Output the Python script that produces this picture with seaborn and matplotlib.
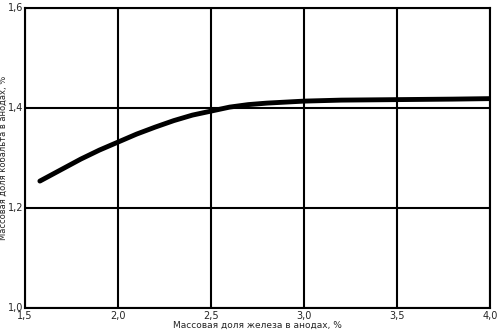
import matplotlib
matplotlib.use("Agg")
import matplotlib.pyplot as plt
import matplotlib.transforms as mtransforms
import seaborn as sns
import pandas as pd

fe = [1.58, 1.65, 1.72, 1.80, 1.90, 2.00, 2.10, 2.20, 2.30, 2.40, 2.50, 2.60, 2.70, 2.80, 3.00, 3.20, 3.50, 3.80, 4.00]
co = [1.254, 1.268, 1.282, 1.298, 1.316, 1.332, 1.348, 1.362, 1.375, 1.386, 1.394, 1.402, 1.407, 1.410, 1.414, 1.416, 1.417, 1.418, 1.419]

xticks = [1.5, 2.0, 2.5, 3.0, 3.5, 4.0]
xticklabels = ["1,5", "2,0", "2,5", "3,0", "3,5", "4,0"]
yticks = [1.0, 1.2, 1.4, 1.6]
yticklabels = ["1,0", "1,2", "1,4", "1,6"]

sns.set_style("white")
plt.rcParams['font.family'] = ['DejaVu Sans']

df = pd.DataFrame({"fe": fe, "co": co})
fig = plt.figure(figsize=(5, 3.35), dpi=100)
ax = fig.add_axes([0.05, 0.0806, 0.93, 0.895])
sns.lineplot(data=df, x="fe", y="co", ax=ax, color="black", linewidth=3.5)
ax.set_xlim(1.5, 4.0)
ax.set_ylim(1.0, 1.6)
ax.set_xticks(xticks)
ax.set_xticklabels(xticklabels, fontsize=7)
ax.set_yticks(yticks)
ax.set_yticklabels(yticklabels, fontsize=7, va="center")
offset = mtransforms.ScaledTranslation(0, 2.5 / 72, fig.dpi_scale_trans)
for lab in ax.get_yticklabels():
    lab.set_transform(lab.get_transform() + offset)
ax.tick_params(axis="x", length=0, pad=2)
ax.tick_params(axis="y", length=0, pad=1)
ax.grid(True, color="black", linewidth=1.5)
ax.set_axisbelow(True)
for s in ax.spines.values():
    s.set_color("black")
    s.set_linewidth(1.5)
ax.set_xlabel("Массовая доля железа в анодах, %", fontsize=6.5, labelpad=0)
ax.set_ylabel("Массовая доля кобальта в анодах, %", fontsize=6)
ax.yaxis.set_label_coords(-0.036, 0.5)
fig.savefig("out.png", dpi=100)
